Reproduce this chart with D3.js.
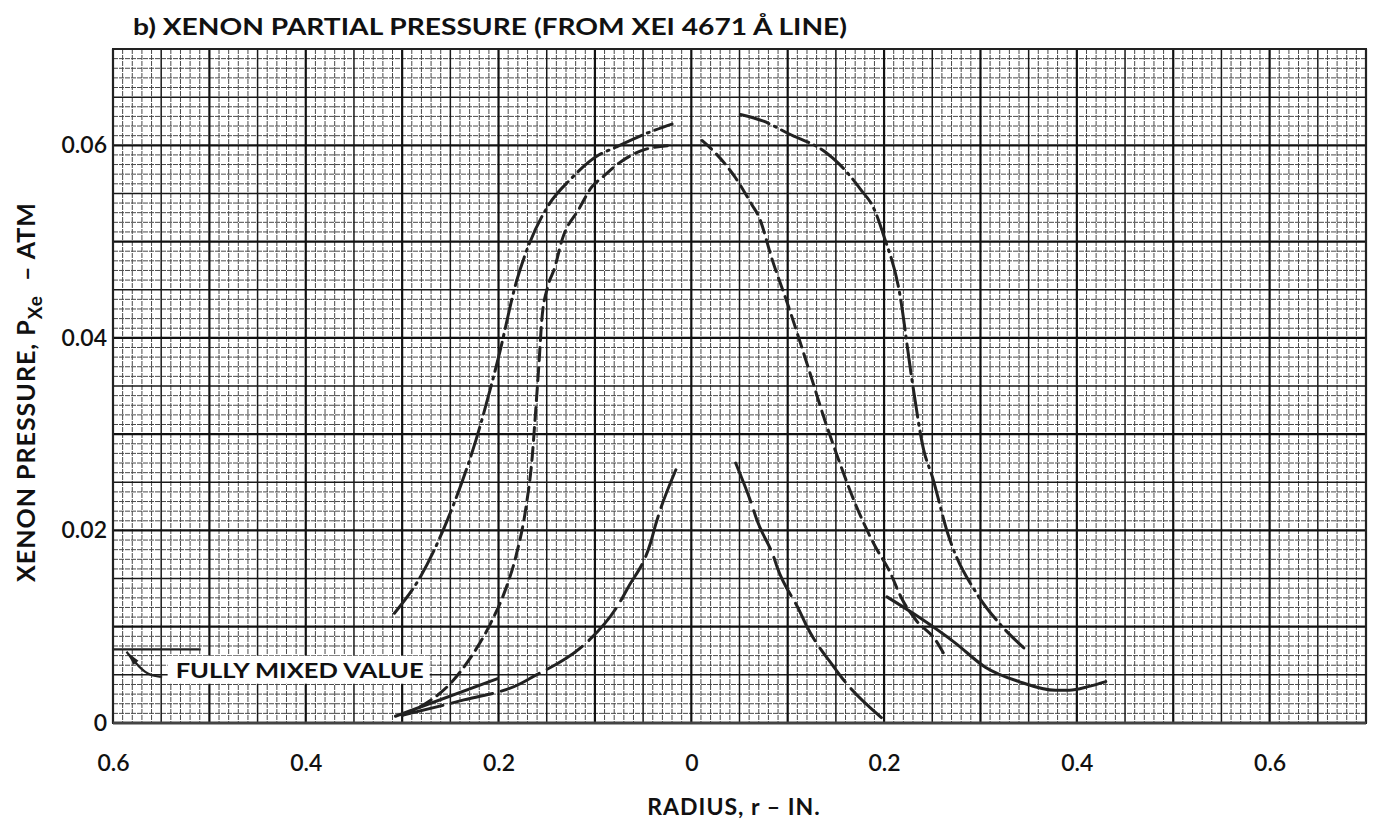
<!DOCTYPE html>
<html>
<head>
<meta charset="utf-8">
<script src="https://cdn.jsdelivr.net/npm/d3@7"></script>
<style>
body { margin: 0; background: #fff; }
text { font-family: Lato, "DejaVu Sans", sans-serif; fill: #111; }
</style>
</head>
<body>
<div class="content"></div>
<script>
// tick values
var xTicks = [-0.6, -0.4, -0.2, 0, 0.2, 0.4, 0.6];
var yTicks = [0, 0.02, 0.04, 0.06];

// curves: [radius, pressure]
var dashDotLeft = [[-0.308,0.0114],[-0.281,0.0152],[-0.253,0.0211],[-0.224,0.0292],[-0.2,0.038],[-0.181,0.046],
    [-0.168,0.0498],[-0.148,0.0538],[-0.125,0.0565],[-0.099,0.0588],[-0.0785,0.0598],[-0.05,0.0611],[-0.02,0.0622]];
var dashDotRight = [[0.051,0.0632],[0.075,0.0625],[0.101,0.0612],[0.139,0.0593],[0.153,0.0581],[0.175,0.0555],
    [0.19,0.0533],[0.2,0.0505],[0.2155,0.045],[0.229,0.0356],[0.241,0.0284],[0.25,0.0256],[0.266,0.0197],
    [0.297,0.0133],[0.32,0.0103],[0.345,0.0078]];
var dashedLeft = [[-0.30,0.0008],[-0.276,0.002],[-0.25,0.0041],[-0.231,0.0065],[-0.208,0.0104],[-0.193,0.0138],
    [-0.182,0.0173],[-0.172,0.0221],[-0.165,0.0277],[-0.1615,0.0324],[-0.158,0.0374],[-0.155,0.042],[-0.149,0.0453],
    [-0.142,0.0472],[-0.134,0.0502],[-0.1165,0.0534],[-0.103,0.0557],[-0.092,0.0567],[-0.073,0.0583],[-0.047,0.0596],[-0.02,0.06]];
var dashedRight = [[0.011,0.0605],[0.025,0.0592],[0.046,0.0566],[0.063,0.0538],[0.07,0.0526],[0.084,0.0481],
    [0.101,0.0432],[0.122,0.0367],[0.138,0.0316],[0.153,0.0273],[0.17,0.0228],[0.191,0.0183],[0.205,0.0159],
    [0.219,0.0128],[0.233,0.0107],[0.2535,0.0086],[0.262,0.0072]];
var longDashLeft = [[-0.30,0.0008],[-0.236,0.0024],[-0.177,0.0041],[-0.168,0.0046],[-0.115,0.0078],[-0.106,0.0086],
    [-0.075,0.0124],[-0.066,0.014],[-0.042,0.0188],[-0.037,0.0206],[-0.016,0.0263]];
var longDashRight = [[0.046,0.027],[0.063,0.0226],[0.068,0.0211],[0.086,0.0171],[0.089,0.0162],[0.112,0.0117],
    [0.119,0.0102],[0.148,0.0058],[0.157,0.0046],[0.198,0.0005]];
var solidTail = [[0.203,0.0131],[0.236,0.011],[0.274,0.0083],[0.305,0.0058],[0.34,0.0043],[0.378,0.0034],
    [0.392,0.0034],[0.4126,0.0038],[0.43,0.0043]];
var stubLine = [[-0.307,0.0007],[-0.201,0.0046]];

// fully mixed value marker
var mixedValue = [[-0.6,0.00765],[-0.509,0.00765]];
var mixedLeader = [[-0.586,0.0074],[-0.566,0.0049],[-0.549,0.0048]];

var W = 1374, H = 824;
var svg = d3.select('.content').append('svg').attr('width', W).attr('height', H);
svg.append('rect').attr('width', W).attr('height', H).attr('fill', '#fff');

var x = d3.scaleLinear().domain([-0.6, 0.7]).range([113, 1366]);
var y = d3.scaleLinear().domain([0, 0.07]).range([723, 49]);

// graph paper
var grid = svg.append('g');
var xs = d3.range(-60, 71), ys = d3.range(0, 71);
function level(i) { return i % 10 === 0 ? 2 : (i % 5 === 0 ? 1 : 0); }
var styles = [
    { stroke: '#4a4a4a', width: 1, dash: '5,1' },
    { stroke: '#1a1a1a', width: 1.5, dash: null },
    { stroke: '#111', width: 2.2, dash: null }
];
[0, 1, 2].forEach(function(lv) {
    var st = styles[lv];
    grid.selectAll('line.v' + lv).data(xs.filter(function(i) { return level(i) === lv; }))
        .enter().append('line')
        .attr('x1', function(i) { return x(i / 100); })
        .attr('x2', function(i) { return x(i / 100); })
        .attr('y1', y(0.07)).attr('y2', y(0))
        .attr('stroke', st.stroke).attr('stroke-width', st.width)
        .attr('stroke-dasharray', st.dash);
    grid.selectAll('line.h' + lv).data(ys.filter(function(i) { return level(i) === lv; }))
        .enter().append('line')
        .attr('y1', function(i) { return y(i / 1000); })
        .attr('y2', function(i) { return y(i / 1000); })
        .attr('x1', x(-0.6)).attr('x2', x(0.7))
        .attr('stroke', st.stroke).attr('stroke-width', st.width)
        .attr('stroke-dasharray', st.dash);
});
svg.append('rect')
    .attr('x', x(-0.6)).attr('y', y(0.07))
    .attr('width', x(0.7) - x(-0.6)).attr('height', y(0) - y(0.07))
    .attr('fill', 'none').attr('stroke', '#222').attr('stroke-width', 2);
svg.append('line')
    .attr('x1', x(-0.6)).attr('x2', x(0.7)).attr('y1', y(0)).attr('y2', y(0))
    .attr('stroke', '#444').attr('stroke-width', 3);

// axes
var xAxis = svg.append('g').attr('transform', 'translate(0,' + y(0) + ')')
    .call(d3.axisBottom(x).tickValues(xTicks).tickSize(0).tickPadding(32)
        .tickFormat(function(d) { return d === 0 ? '0' : d3.format('.1f')(Math.abs(d)); }));
xAxis.select('.domain').remove();
xAxis.selectAll('text').style('font-family', 'Lato, sans-serif').style('font-size', '23px')
    .style('font-weight', 600).attr('fill', '#111');

var yAxis = svg.append('g').attr('transform', 'translate(' + x(-0.6) + ',0)')
    .call(d3.axisLeft(y).tickValues(yTicks).tickSize(0).tickPadding(6)
        .tickFormat(function(d) { return d === 0 ? '0' : d3.format('.2f')(d); }));
yAxis.select('.domain').remove();
yAxis.selectAll('text').style('font-family', 'Lato, sans-serif').style('font-size', '23px')
    .style('font-weight', 600).attr('fill', '#111');

// curves
var line = d3.line()
    .x(function(d) { return x(d[0]); })
    .y(function(d) { return y(d[1]); })
    .curve(d3.curveMonotoneX);

var curves = [
    { data: dashDotLeft, dash: '30,6,2,6' },
    { data: dashDotRight, dash: '30,6,2,6' },
    { data: dashedLeft, dash: '13,7' },
    { data: dashedRight, dash: '13,7' },
    { data: longDashLeft, dash: '42,9' },
    { data: longDashRight, dash: '42,9' },
    { data: solidTail, dash: null },
    { data: stubLine, dash: null }
];
svg.append('g').selectAll('path').data(curves).enter().append('path')
    .attr('d', function(c) { return line(c.data); })
    .attr('fill', 'none')
    .attr('stroke', '#222')
    .attr('stroke-width', 3)
    .attr('stroke-linecap', 'round')
    .attr('stroke-dasharray', function(c) { return c.dash; });

// fully mixed value annotation
var straight = d3.line().x(function(d) { return x(d[0]); }).y(function(d) { return y(d[1]); });
svg.append('path').attr('d', straight(mixedValue))
    .attr('fill', 'none').attr('stroke', '#222').attr('stroke-width', 2.2);
svg.append('path').attr('d', straight.curve(d3.curveBasis)(mixedLeader))
    .attr('fill', 'none').attr('stroke', '#222').attr('stroke-width', 2.2);
var a0 = mixedLeader[0];
svg.append('path')
    .attr('d', 'M' + x(a0[0]) + ',' + y(a0[1]) + 'l12,9l-5,4z')
    .attr('fill', '#222');

var label = svg.append('g');
var labelText = label.append('text')
    .attr('x', x(-0.535)).attr('y', y(0.0047))
    .attr('textLength', 248).attr('lengthAdjust', 'spacingAndGlyphs')
    .style('font-size', '21px').style('font-weight', 700)
    .text('FULLY MIXED VALUE');
var bb = labelText.node().getBBox();
label.insert('rect', 'text')
    .attr('x', bb.x - 8).attr('y', bb.y - 1)
    .attr('width', bb.width + 14).attr('height', bb.height + 3)
    .attr('fill', '#fff');

// titles
svg.append('text')
    .attr('x', 133).attr('y', 35)
    .attr('textLength', 714).attr('lengthAdjust', 'spacingAndGlyphs')
    .style('font-size', '23px').style('font-weight', 700)
    .text('b) XENON PARTIAL PRESSURE (FROM XEI 4671 \u00c5 LINE)');

svg.append('text')
    .attr('x', 734).attr('y', 815)
    .attr('text-anchor', 'middle')
    .style('font-size', '23px').style('font-weight', 700).style('letter-spacing', '1px')
    .text('RADIUS, r \u2013 IN.');

var yt = svg.append('text')
    .attr('transform', 'translate(35,392) rotate(-90)')
    .attr('text-anchor', 'middle')
    .style('font-size', '25px').style('font-weight', 700).style('letter-spacing', '1px');
yt.append('tspan').text('XENON PRESSURE, P');
yt.append('tspan').attr('dy', 7).style('font-size', '19px').text('Xe');
yt.append('tspan').attr('dy', -7).text('\u00a0\u00a0\u2013\u00a0ATM');
</script>
</body>
</html>
